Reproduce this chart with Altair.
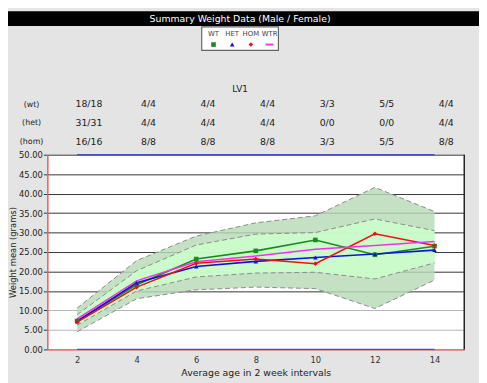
import altair as alt
import pandas as pd

# ---------------- data ----------------
weeks = [2, 4, 6, 8, 10, 12, 14]
series_names = ["WT", "HET", "HOM", "WTR"]
wt = [7.3, 16.6, 23.2, 25.3, 28.1, 24.3, 26.5]
het = [7.2, 17.1, 21.3, 22.6, 23.6, 24.5, 25.5]
hom = [7.0, 16.0, 22.1, 23.2, 22.0, 29.7, 26.7]
wtr = [7.8, 17.6, 22.5, 24.0, 25.7, 26.7, 27.7]

outer_upper = [10.6, 22.8, 29.1, 32.5, 34.3, 41.6, 35.4]
outer_lower = [4.5, 13.0, 15.3, 16.0, 15.6, 10.5, 17.8]
inner_upper = [8.9, 20.2, 26.8, 29.6, 30.0, 33.5, 30.5]
inner_lower = [6.2, 15.0, 18.6, 19.6, 19.8, 18.1, 22.2]

row_labels = ["(wt)", "(het)", "(hom)"]
wt_counts = ["18/18", "4/4", "4/4", "4/4", "3/3", "5/5", "4/4"]
het_counts = ["31/31", "4/4", "4/4", "4/4", "0/0", "0/0", "4/4"]
hom_counts = ["16/16", "8/8", "8/8", "8/8", "3/3", "5/5", "8/8"]

title_text = "Summary Weight Data (Male / Female)"
group_label = "LV1"
y_ticks = [0, 5, 10, 15, 20, 25, 30, 35, 40, 45, 50]

# ---------------- tables ----------------
series_df = pd.DataFrame(
    [
        {"week": w, "value": v, "series": name}
        for name, vals in zip(series_names, [wt, het, hom, wtr])
        for w, v in zip(weeks, vals)
    ]
)
band_df = pd.DataFrame(
    {
        "week": weeks,
        "olo": outer_lower,
        "ohi": outer_upper,
        "ilo": inner_lower,
        "ihi": inner_upper,
    }
)
count_df = pd.DataFrame(
    {"week": weeks, "wt": wt_counts, "het": het_counts, "hom": hom_counts}
)
one = pd.DataFrame({"a": [0]})

W, H = 424, 198
FONT = "DejaVu Sans"

colors = ["#1a8c1a", "#1010e0", "#ee1111", "#ee33ee"]
shapes = ["square", "triangle-up", "diamond", "circle"]

x_scale = alt.Scale(domain=[1, 15], nice=False, zero=False)
y_scale = alt.Scale(domain=[0, 50], nice=False)

x_axis = alt.Axis(
    values=weeks,
    title="Average age in 2 week intervals",
    grid=False,
    tickSize=0,
    labelPadding=6,
    labelFontSize=8.5,
    labelColor="#333333",
    labelFont=FONT,
    titleFont=FONT,
    titleFontSize=9.5,
    titleFontWeight="normal",
    titleColor="#222222",
    titlePadding=4,
    domainColor="#e06060",
    domainWidth=1.5,
)
y_axis = alt.Axis(
    values=y_ticks,
    format=".2f",
    title="Weight mean (grams)",
    grid=True,
    gridColor={"condition": {"test": "datum.value <= 10", "value": "#b4b4b4"}, "value": "#333333"},
    gridWidth=1,
    tickSize=4,
    tickColor="#333333",
    labelPadding=1,
    labelFontSize=8.5,
    labelColor="#222222",
    labelFont=FONT,
    titleFont=FONT,
    titleFontSize=8.5,
    titleFontWeight="normal",
    titleColor="#222222",
    titleX=-35,
    titleY=H / 2,
    titleAngle=270,
    titleAlign="center",
    titleBaseline="middle",
    domainColor="#e06060",
    domainWidth=1.5,
)

X = alt.X("week:Q", scale=x_scale, axis=x_axis)


def Y(field):
    return alt.Y(f"{field}:Q", scale=y_scale, axis=y_axis)


base_band = alt.Chart(band_df)

outer = base_band.mark_area(color="#b7dab7", opacity=0.82).encode(
    x=X, y=Y("olo"), y2="ohi:Q"
)
inner = base_band.mark_area(color="#ccffcc", opacity=0.85).encode(
    x=X, y=Y("ilo"), y2="ihi:Q"
)


def dashed(field):
    return base_band.mark_line(
        color="#8a8a8a", strokeDash=[5, 3], strokeWidth=1
    ).encode(x=X, y=Y(field))


dash_layers = [dashed(f) for f in ["olo", "ohi", "ilo", "ihi"]]

color_enc = alt.Color(
    "series:N", scale=alt.Scale(domain=series_names, range=colors), legend=None
)
lines = alt.Chart(series_df).mark_line(strokeWidth=1.6).encode(
    x=X,
    y=Y("value"),
    color=color_enc,
    order=alt.Order("week:Q"),
)
points = (
    alt.Chart(series_df)
    .transform_filter("datum.series != 'WTR'")
    .mark_point(filled=True, size=22, opacity=1)
    .encode(
        x=X,
        y=Y("value"),
        color=color_enc,
        shape=alt.Shape(
            "series:N", scale=alt.Scale(domain=series_names, range=shapes), legend=None
        ),
    )
)

# frame pieces
blue_top = alt.Chart(one).mark_rule(color="#4050d0", strokeWidth=1.5).encode(
    x=alt.datum(weeks[0], scale=x_scale),
    x2=alt.datum(weeks[-1]),
    y=alt.value(0),
)
blue_bottom = alt.Chart(one).mark_rule(color="#4050d0", strokeWidth=1.5).encode(
    x=alt.datum(weeks[0], scale=x_scale),
    x2=alt.datum(weeks[-1]),
    y=alt.value(H),
)
right_border = alt.Chart(one).mark_rule(color="#222222", strokeWidth=1.5).encode(
    x=alt.value(W), y=alt.value(0), y2=alt.value(H)
)

# header band and title
title_bar = alt.Chart(one).mark_rect(color="black").encode(
    x=alt.value(-40), x2=alt.value(W + 15), y=alt.value(-146), y2=alt.value(-131)
)
title = alt.Chart(one).mark_text(
    text=title_text, color="white", font=FONT, fontSize=9.5, baseline="middle", align="center"
).encode(x=alt.value(196), y=alt.value(-138))

# legend box
legend_box = alt.Chart(one).mark_rect(
    fill="white", stroke="#666666", strokeWidth=1.2
).encode(x=alt.value(157), x2=alt.value(235), y=alt.value(-130), y2=alt.value(-106))

legend_layers = [legend_box]
for i, name in enumerate(series_names):
    lx = 169 + i * 19
    legend_layers.append(
        alt.Chart(one)
        .mark_text(text=name, fontSize=7, font=FONT, color="#444444", baseline="middle")
        .encode(x=alt.value(lx), y=alt.value(-123))
    )
    if name == "WTR":
        legend_layers.append(
            alt.Chart(one)
            .mark_rule(color=colors[i], strokeWidth=2)
            .encode(x=alt.value(lx - 4), x2=alt.value(lx + 4), y=alt.value(-112))
        )
    else:
        legend_layers.append(
            alt.Chart(one)
            .mark_point(filled=True, shape=shapes[i], size=22, color=colors[i], opacity=1)
            .encode(x=alt.value(lx), y=alt.value(-112))
        )

# count table
group_text = alt.Chart(one).mark_text(
    text=group_label, font=FONT, fontSize=9, color="#222222", baseline="middle"
).encode(x=alt.value(196), y=alt.value(-67))

table_layers = [group_text]
row_y = [-51, -32, -13]
for lab, field, yy in zip(row_labels, ["wt", "het", "hom"], row_y):
    table_layers.append(
        alt.Chart(one)
        .mark_text(text=lab, font=FONT, fontSize=8, color="#222222", baseline="middle")
        .encode(x=alt.value(-16), y=alt.value(yy))
    )
    table_layers.append(
        alt.Chart(count_df)
        .mark_text(font=FONT, fontSize=9.5, color="#222222", baseline="middle", dx=12)
        .encode(x=X, y=alt.value(yy), text=f"{field}:N")
    )

chart = (
    alt.layer(
        outer,
        inner,
        *dash_layers,
        lines,
        points,
        blue_top,
        blue_bottom,
        right_border,
        title_bar,
        title,
        *legend_layers,
        *table_layers,
    )
    .properties(
        width=W,
        height=H,
        autosize=alt.AutoSizeParams(type="none"),
        padding={"left": 40, "top": 146, "right": 15, "bottom": 31},
        background="#e4e4e4",
    )
    .configure_view(fill="white", stroke=None)
)

chart.save("out.html", embed_options={"renderer": "svg", "actions": False})
